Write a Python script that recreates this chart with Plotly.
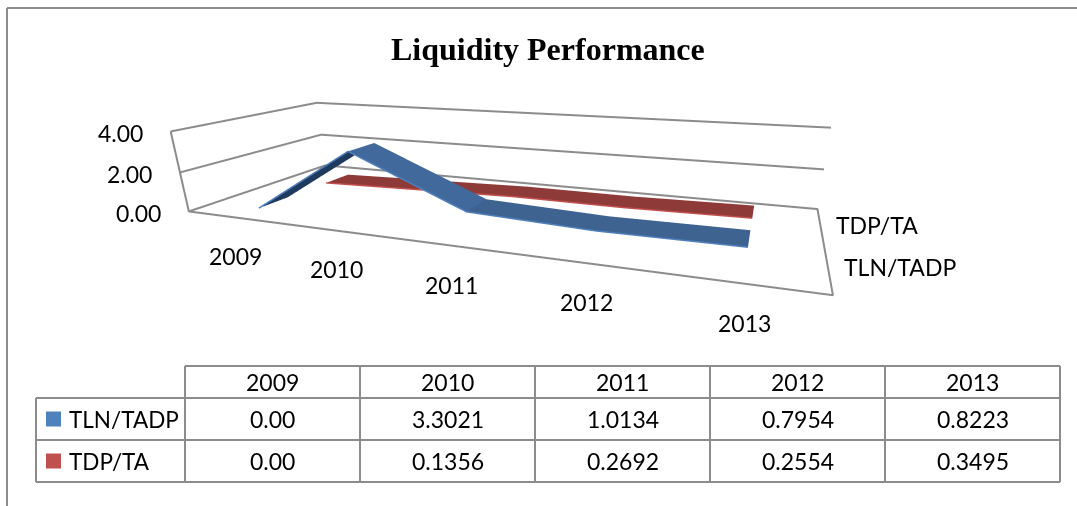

import plotly.graph_objects as go

categories = ["2009", "2010", "2011", "2012", "2013"]
series_names = ["TLN/TADP", "TDP/TA"]
tln_tadp = [0.00, 3.3021, 1.0134, 0.7954, 0.8223]
tdp_ta = [0.00, 0.1356, 0.2692, 0.2554, 0.3495]
tln_labels = ["0.00", "3.3021", "1.0134", "0.7954", "0.8223"]
tdp_labels = ["0.00", "0.1356", "0.2692", "0.2554", "0.3495"]
z_ticks = [0, 2, 4]

W, H = 1077, 506
xr = [-0.5, 4.5]; yr = [-0.5, 1.5]; zr = [0, 4]
LC = "#8c8c8c"
FONT = "Lato, Carlito, sans-serif"
FS = 23
d = 0.1960
pad = 0.02

def wide(rng):
    s = rng[1] - rng[0]
    return [rng[0] - pad * s, rng[1] + pad * s]

fig = go.Figure()

def ribbon(vals, yi, fcs, edge):
    xs = []; ys = []; zs = []; ii = []; jj = []; kk = []; fc = []
    for k, v in enumerate(vals):
        xs += [k, k]; ys += [yi - d, yi + d]; zs += [v, v]
    for k in range(len(vals) - 1):
        a = 2 * k
        ii += [a, a + 1]; jj += [a + 1, a + 3]; kk += [a + 2, a + 2]; fc += [fcs[k], fcs[k]]
    fig.add_trace(go.Mesh3d(x=xs, y=ys, z=zs, i=ii, j=jj, k=kk, facecolor=fc, flatshading=True,
        lighting=dict(ambient=1, diffuse=0, specular=0, fresnel=0, roughness=1), hoverinfo="skip"))
    fig.add_trace(go.Scatter3d(x=list(range(len(vals))), y=[yi - d] * len(vals), z=vals, mode="lines",
        line=dict(color=edge, width=3), hoverinfo="skip"))

ribbon(tln_tadp, 0, ["#1f3a5f", "#41699c", "#3f6390", "#3f6390"], "#4f81bd")
ribbon(tdp_ta, 1, ["#8e3a38"] * 4, "#c0504d")

def frame(xs, ys, zs):
    fig.add_trace(go.Scatter3d(x=xs, y=ys, z=zs, mode="lines", line=dict(color=LC, width=4), hoverinfo="skip"))

frame([xr[0], xr[1], xr[1], xr[0], xr[0], xr[0]], [yr[0], yr[0], yr[1], yr[1], yr[0], yr[0]], [zr[0]] * 5 + [zr[1]])
for t in z_ticks[1:]:
    frame([xr[0], xr[0], xr[1]], [yr[0], yr[1], yr[1]], [t, t, t])

ax = dict(showbackground=False, showspikes=False, zeroline=False, title="", showticklabels=False,
          ticks="", showline=False, showgrid=False)
lab = dict(family=FONT, size=FS, color="black")
ann3d = []
for t in z_ticks:
    ann3d.append(dict(x=xr[0], y=yr[0], z=t, text=f"{t:.2f}", showarrow=False, xanchor="right", xshift=-26, yshift=-2, font=lab))
for k, c in enumerate(categories):
    ann3d.append(dict(x=k, y=yr[0], z=0, text=c, showarrow=False, xshift=1, yshift=-39, font=lab))
for i, n in enumerate(series_names):
    ann3d.append(dict(x=xr[1], y=i, z=0, text=n, showarrow=False, xanchor="left", xshift=14, yshift=0, font=lab))

g = 1 + 2 * pad
fig.update_layout(width=W, height=H, margin=dict(l=0, r=0, t=0, b=0), paper_bgcolor="white", showlegend=False,
    scene=dict(domain=dict(x=[0, 1], y=[0, 1]), dragmode="orbit", aspectmode="manual",
        aspectratio=dict(x=2 * g, y=0.7119 * g, z=0.2709 * g),
        camera=dict(eye=dict(x=0.8092, y=-1.8023, z=0.4813), center=dict(x=0.7805, y=-1.7256, z=0.4492),
                    up=dict(x=-1.1300, y=3.0687, z=0.8582), projection=dict(type="perspective")),
        xaxis=dict(ax, range=wide(xr)), yaxis=dict(ax, range=wide(yr)), zaxis=dict(ax, range=wide(zr)),
        annotations=ann3d))

def px(x): return x / W
def py(y): return 1 - y / H
def line(x0, y0, x1, y1, w=2):
    fig.add_shape(type="line", xref="paper", yref="paper", x0=px(x0), y0=py(y0), x1=px(x1), y1=py(y1),
                  line=dict(color=LC, width=w))
def text(x, y, s, anchor="center", font=None):
    fig.add_annotation(text=s, xref="paper", yref="paper", x=px(x), y=py(y), xanchor=anchor, yanchor="middle",
                       showarrow=False, font=font or lab)

line(7, 8, W, 8, 2)
line(7, 8, 7, H, 2)

col_x = [185, 360, 535, 710, 885, 1060]
row_y = [366, 398, 440, 482]
line(col_x[0], row_y[0], col_x[-1], row_y[0])
for y in row_y[1:]:
    line(36, y, col_x[-1], y)
line(36, row_y[1], 36, row_y[3])
for x in col_x:
    line(x, row_y[0], x, row_y[3])
rows = [tln_labels, tdp_labels]
for k, c in enumerate(categories):
    cx = (col_x[k] + col_x[k + 1]) / 2
    text(cx, (row_y[0] + row_y[1]) / 2, c)
    for r in range(2):
        text(cx, (row_y[r + 1] + row_y[r + 2]) / 2, rows[r][k])
for r, (n, col) in enumerate(zip(series_names, ["#4f81bd", "#c0504d"])):
    cy = (row_y[r + 1] + row_y[r + 2]) / 2
    fig.add_shape(type="rect", xref="paper", yref="paper", x0=px(46), x1=px(61), y0=py(cy - 7.5), y1=py(cy + 7.5),
                  fillcolor=col, line=dict(width=0))
    text(67, cy, n, anchor="left", font=dict(family=FONT, size=22.5, color="black"))

text(548, 48.5, "<b>Liquidity Performance</b>", font=dict(family="Liberation Serif", size=32, color="black"))

fig.write_html("out.html", config=dict(displayModeBar=False), post_script="document.body.style.margin='0';")
